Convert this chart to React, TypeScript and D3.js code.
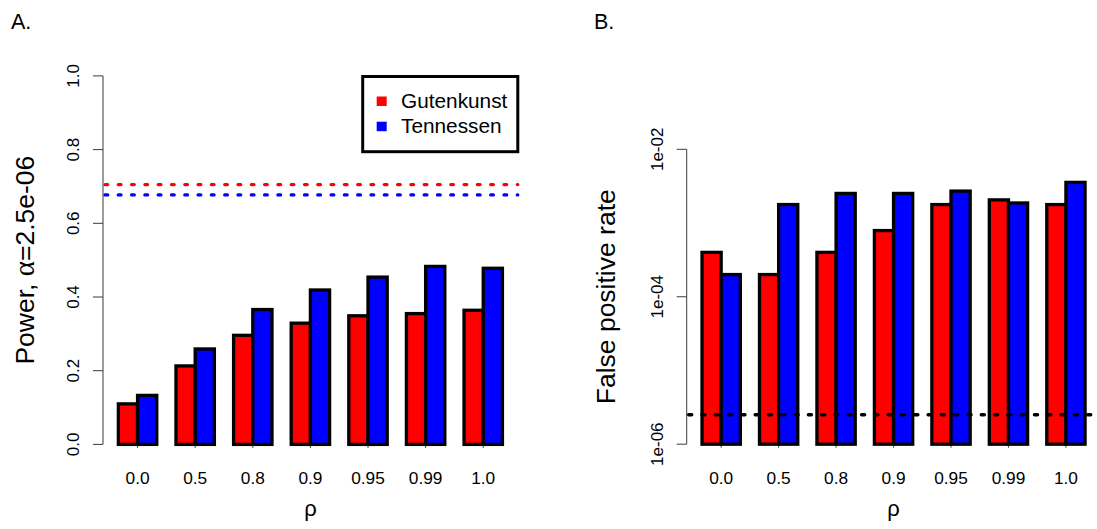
import React from "react";
import * as d3 from "d3";

// correlation settings on the x axis
const rhoLabels = ["0.0", "0.5", "0.8", "0.9", "0.95", "0.99", "1.0"];
const seriesNames = ["Gutenkunst", "Tennessen"];
const seriesColors = ["#ff0000", "#0000ff"];

// panel A: power per model
const powerGutenkunst = [0.110, 0.213, 0.296, 0.329, 0.349, 0.355, 0.364];
const powerTennessen = [0.133, 0.259, 0.366, 0.419, 0.454, 0.483, 0.478];
// reference power levels (dotted lines)
const powerRefGutenkunst = 0.705;
const powerRefTennessen = 0.677;
const powerTicks = [0, 0.2, 0.4, 0.6, 0.8, 1.0];

// panel B: false positive rate per model
const fprGutenkunst = [4.0e-4, 2.0e-4, 4.0e-4, 7.9e-4, 1.78e-3, 2.06e-3, 1.78e-3];
const fprTennessen = [2.0e-4, 1.78e-3, 2.52e-3, 2.52e-3, 2.71e-3, 1.87e-3, 3.56e-3];
const alphaLevel = 2.5e-6;
const fprTicks = [1e-2, 1e-4, 1e-6];
const fprTickLabels = ["1e-02", "1e-04", "1e-06"];

const FONT = "'Liberation Sans', Arial, Helvetica, sans-serif";
const SYMBOL_FONT = "'Liberation Serif', 'Times New Roman', serif";
const AXIS_COLOR = "#3a3a3a";
const BAR_STROKE = 3.3;

type PanelProps = {
  left: number;
  right: number;
  y: d3.ScaleContinuousNumeric<number, number>;
  base: number;
  series: number[][];
  ticks: number[];
  tickLabels: string[];
  yTitle: React.ReactNode;
  titleX: number;
  tickLabelX: number;
};

function BarPanel({ left, right, y, base, series, ticks, tickLabels, yTitle, titleX, tickLabelX }: PanelProps) {
  // R-style barplot: groups of two unit-wide bars with one unit of space before each group
  const x = d3.scaleLinear().domain([0.2, 21.8]).range([left, right]);
  const y0 = y(base);
  const yTop = Math.min(y(ticks[0]), y(ticks[ticks.length - 1]));
  const yBottom = Math.max(y(ticks[0]), y(ticks[ticks.length - 1]));
  const midX = (left + right) / 2;
  const midY = (yTop + yBottom) / 2;
  return (
    <g>
      {/* y axis */}
      <line x1={left} x2={left} y1={yTop} y2={yBottom} stroke={AXIS_COLOR} strokeWidth={1} />
      {ticks.map((t, i) => (
        <g key={i}>
          <line x1={left - 10} x2={left} y1={y(t)} y2={y(t)} stroke={AXIS_COLOR} strokeWidth={1} />
          <text
            transform={`translate(${tickLabelX},${y(t)}) rotate(-90)`}
            textAnchor="middle"
            fontFamily={FONT}
            fontSize={17}
            fill="#000"
          >
            {tickLabels[i]}
          </text>
        </g>
      ))}
      {/* small ticks under the group centres */}
      {rhoLabels.map((_, i) => (
        <line key={i} x1={x(2 + 3 * i)} x2={x(2 + 3 * i)} y1={y0} y2={y0 + 3.5} stroke={AXIS_COLOR} strokeWidth={1} />
      ))}
      {/* bars */}
      {rhoLabels.map((_, i) =>
        series.map((vals, s) => (
          <rect
            key={`${i}-${s}`}
            x={x(1 + 3 * i + s)}
            width={x(2 + 3 * i + s) - x(1 + 3 * i + s)}
            y={y(vals[i])}
            height={y0 - y(vals[i])}
            fill={seriesColors[s]}
            stroke="#000"
            strokeWidth={BAR_STROKE}
          />
        ))
      )}
      {/* group labels */}
      {rhoLabels.map((lab, i) => (
        <text key={i} x={x(2 + 3 * i)} y={484} textAnchor="middle" fontFamily={FONT} fontSize={17.3} fill="#000">
          {lab}
        </text>
      ))}
      <text x={midX} y={516} textAnchor="middle" fontFamily={FONT} fontSize={22} fill="#000">
        ρ
      </text>
      <text
        transform={`translate(${titleX},${midY}) rotate(-90)`}
        textAnchor="middle"
        fontFamily={FONT}
        fontSize={26.5}
        fill="#000"
      >
        {yTitle}
      </text>
    </g>
  );
}

export default function App() {
  const W = 1097;
  const H = 529;

  // panel A geometry
  const aLeft = 103;
  const aRight = 517.8;
  const yPower = d3.scaleLinear().domain([0, 1]).range([444.4, 75.9]);

  // panel B geometry
  const bLeft = 686.7;
  const bRight = 1100.4;
  const yFpr = d3.scaleLog().domain([1e-6, 1e-2]).range([444.2, 149.3]);

  const dotted = { strokeWidth: 3.3, strokeDasharray: "2.7 10.6", strokeLinecap: "round" as const };

  return (
    <svg width={W} height={H} style={{ position: "absolute", left: 0, top: 0, background: "#fff" }}>
      <rect width={W} height={H} fill="#fff" />
      <defs>
        <clipPath id="clipB">
          <rect x={bLeft} y={0} width={bRight - bLeft} height={H} />
        </clipPath>
      </defs>

      {/* Panel A */}
      <text x={11} y={29} fontFamily={FONT} fontSize={21.5} fill="#000">A.</text>
      <BarPanel
        left={aLeft}
        right={aRight}
        y={yPower}
        base={0}
        series={[powerGutenkunst, powerTennessen]}
        ticks={powerTicks}
        tickLabels={powerTicks.map((t) => d3.format(".1f")(t))}
        yTitle={
          <>
            {"Power, "}
            <tspan fontFamily={SYMBOL_FONT} fontSize={29}>α</tspan>
            {"=2.5e-06"}
          </>
        }
        titleX={34}
        tickLabelX={78.5}
      />
      <line x1={aLeft + 2} x2={aRight} y1={yPower(powerRefGutenkunst)} y2={yPower(powerRefGutenkunst)} stroke={seriesColors[0]} {...dotted} />
      <line x1={aLeft + 2} x2={aRight} y1={yPower(powerRefTennessen)} y2={yPower(powerRefTennessen)} stroke={seriesColors[1]} {...dotted} />

      {/* legend */}
      <g>
        <rect x={362.7} y={76.5} width={aRight - 362.7} height={75.2} fill="#fff" stroke="#000" strokeWidth={3} />
        {seriesNames.map((name, i) => (
          <g key={name}>
            <rect x={376.7} y={96.5 + i * 25.2} width={10} height={9.5} fill={seriesColors[i]} />
            <text x={401} y={108.2 + i * 25.2} fontFamily={FONT} fontSize={20.8} fill="#000">
              {name}
            </text>
          </g>
        ))}
      </g>

      {/* Panel B */}
      <text x={594} y={29} fontFamily={FONT} fontSize={21.5} fill="#000">B.</text>
      <BarPanel
        left={bLeft}
        right={bRight}
        y={yFpr}
        base={1e-6}
        series={[fprGutenkunst, fprTennessen]}
        ticks={fprTicks}
        tickLabels={fprTickLabels}
        yTitle={"False positive rate"}
        titleX={615}
        tickLabelX={662.5}
      />
      <g clipPath="url(#clipB)">
        <line x1={bLeft + 2} x2={bRight} y1={yFpr(alphaLevel)} y2={yFpr(alphaLevel)} stroke="#000" strokeWidth={3.5} strokeDasharray="3 10.3" strokeLinecap="round" />
      </g>
    </svg>
  );
}
